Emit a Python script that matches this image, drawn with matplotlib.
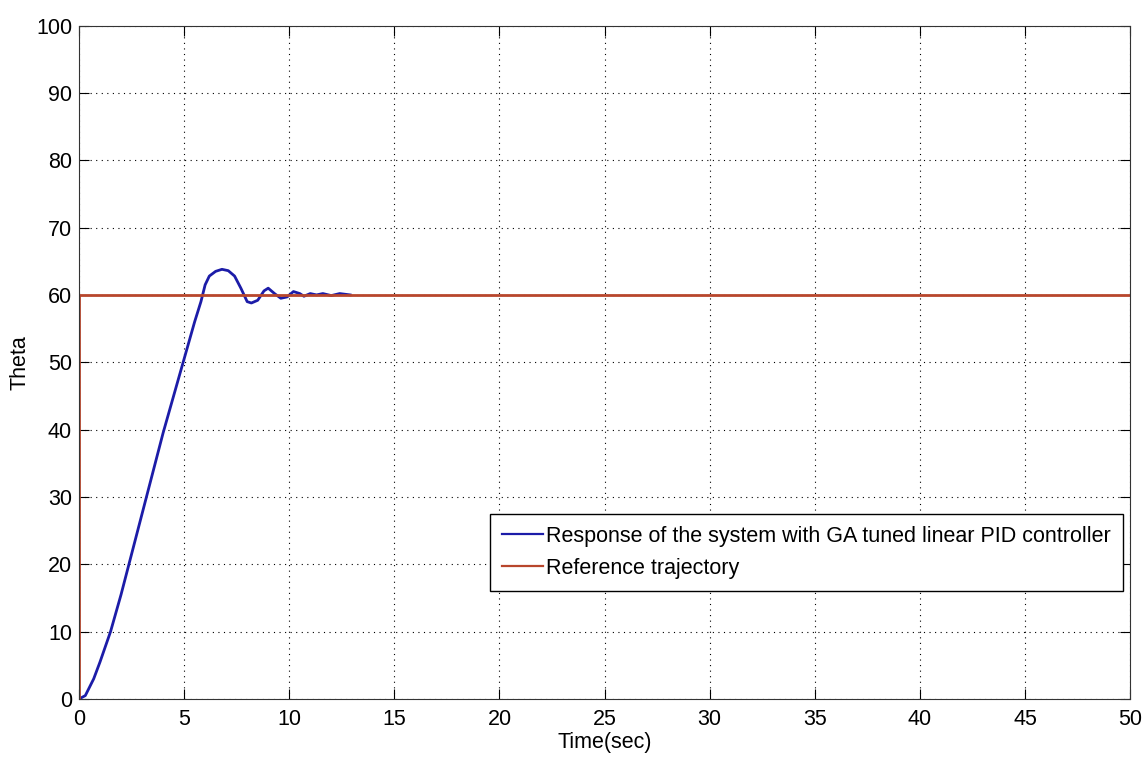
import numpy as np
import matplotlib
matplotlib.use("Agg")
import matplotlib.pyplot as plt

plt.rcParams['font.family'] = ['Liberation Sans', 'DejaVu Sans']

# response of the system
t_resp = [0, 0.3, 0.7, 1.0, 1.5, 2.0, 2.5, 3.0, 3.5, 4.0, 4.5, 5.0, 5.5, 5.8,
          6.0, 6.2, 6.5, 6.8, 7.1, 7.4, 7.7, 8.0, 8.2, 8.5, 8.8, 9.0, 9.3,
          9.6, 9.9, 10.2, 10.5, 10.7, 11.0, 11.3, 11.6, 12.0, 12.4, 12.9]
theta_resp = [0, 0.5, 3, 5.5, 10, 15.5, 21.5, 27.5, 33.5, 39.5, 45, 50.5, 56, 59,
              61.5, 62.8, 63.5, 63.8, 63.6, 62.8, 61, 59, 58.8, 59.2, 60.6, 61, 60.2,
              59.5, 59.7, 60.5, 60.2, 59.8, 60.2, 60.0, 60.2, 59.9, 60.2, 60.0]

# reference trajectory (step to 60)
t_ref = [0, 0, 50]
theta_ref = [0, 60, 60]

xticks = np.arange(0, 51, 5)
yticks = np.arange(0, 101, 10)

fig = plt.figure(figsize=(11.45, 7.67), dpi=100)
ax = fig.add_axes([0.069, 0.0887, 0.918, 0.878])

ax.plot(t_resp, theta_resp, color='#1c1ca8', lw=2,
        label='Response of the system with GA tuned linear PID controller')
ax.plot(t_ref, theta_ref, color='#b8462c', lw=2, label='Reference trajectory')

ax.set_xlim(0, 50)
ax.set_ylim(0, 100)
ax.set_xticks(xticks)
ax.set_yticks(yticks)
ax.tick_params(direction='in', top=True, right=True, labelsize=15.5, length=7)
ax.tick_params(axis='x', pad=7)
ax.tick_params(axis='y', pad=5)
ax.grid(True, linestyle=(0, (1, 4)), color='black', lw=0.8)
for s in ax.spines.values():
    s.set_color('#333333')

ax.set_xlabel('Time(sec)', fontsize=15.5, labelpad=2)
ax.set_ylabel('Theta', fontsize=15.5, labelpad=4)

leg = ax.legend(loc='lower right', bbox_to_anchor=(0.993, 0.161), fontsize=15.5,
                frameon=True, fancybox=False, edgecolor='black', framealpha=1,
                handlelength=1.9, handletextpad=0.15, borderpad=0.55, labelspacing=0.5,
                borderaxespad=0)
leg.get_frame().set_linewidth(1.0)
for h in leg.get_lines():
    h.set_linewidth(1.6)

fig.savefig('out.png', dpi=100)
